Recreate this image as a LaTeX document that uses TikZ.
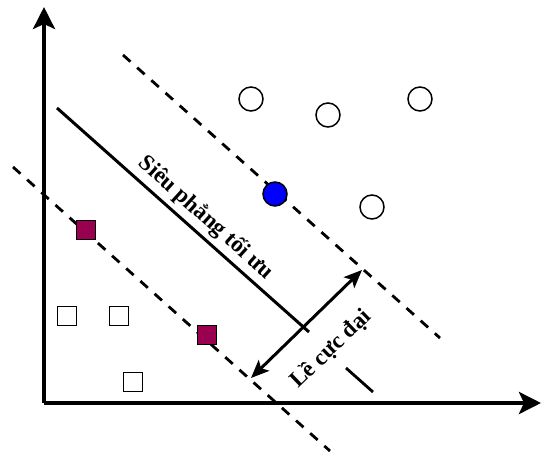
\documentclass[tikz,border=0pt]{standalone}
\usepackage{fontspec}
\setmainfont{Liberation Serif}
\usetikzlibrary{arrows.meta}
\definecolor{maroonpt}{RGB}{153,0,80}
\begin{document}
\begin{tikzpicture}[x=1pt,y=1pt,
  axis/.style={line width=4pt,-{Stealth[length=22pt,width=22pt,inset=5pt]}},
  margin/.style={line width=2.8pt,dash pattern=on 10pt off 9pt},
  hyper/.style={line width=3pt},
  posdot/.style={circle,draw,line width=1.5pt,minimum size=24pt,inner sep=0pt},
  negbox/.style={rectangle,draw,line width=1.5pt,minimum size=19pt,inner sep=0pt},
  lbl/.style={font=\fontsize{23}{26}\selectfont\bfseries,inner sep=0pt}]
\useasboundingbox (0,0) rectangle (542,451);

% axes
\coordinate (O) at (44,48);
\coordinate (ytop) at (44,444);
\coordinate (xend) at (541,48);
\draw[axis] (O) -- (ytop);
\draw[axis] (O) -- (xend);

% margin lines and separating hyperplane
\coordinate (u1) at (123,396);
\coordinate (u2) at (440,113);
\coordinate (h1) at (57,343);
\coordinate (h2) at (309,119);
\coordinate (l1) at (13,284);
\coordinate (l2) at (330,0);
\draw[margin] (u1) -- (u2);
\draw[hyper] (h1) -- (h2);
\draw[margin] (l1) -- (l2);

% margin width arrow
\coordinate (a1) at (251,73);
\coordinate (a2) at (362,181);
\draw[line width=3pt,{Stealth[length=18pt,width=15pt,inset=4pt]}-{Stealth[length=18pt,width=15pt,inset=4pt]}] (a1) -- (a2);

% short tick below the label
\coordinate (t1) at (346,83);
\coordinate (t2) at (373,59);
\draw[line width=2.8pt] (t1) -- (t2);

% positive class
\node[posdot] (c1) at (251,352) {};
\node[posdot] (c2) at (328,336) {};
\node[posdot] (c3) at (420,352) {};
\node[posdot] (c4) at (372,244) {};
\node[posdot,fill=blue] (sv1) at (275,257) {};

% negative class
\node[negbox,fill=maroonpt] (sv2) at (86,221) {};
\node[negbox,fill=maroonpt] (sv3) at (207,116) {};
\node[negbox] (s1) at (67,135) {};
\node[negbox] (s2) at (119,135) {};
\node[negbox] (s3) at (133,69) {};

% labels
\node[lbl,rotate=-42] (hl) at (206,233) {Siêu phẳng tối ưu};
\node[lbl,rotate=44] (ml) at (331,102) {Lề cực đại};
\end{tikzpicture}
\end{document}
